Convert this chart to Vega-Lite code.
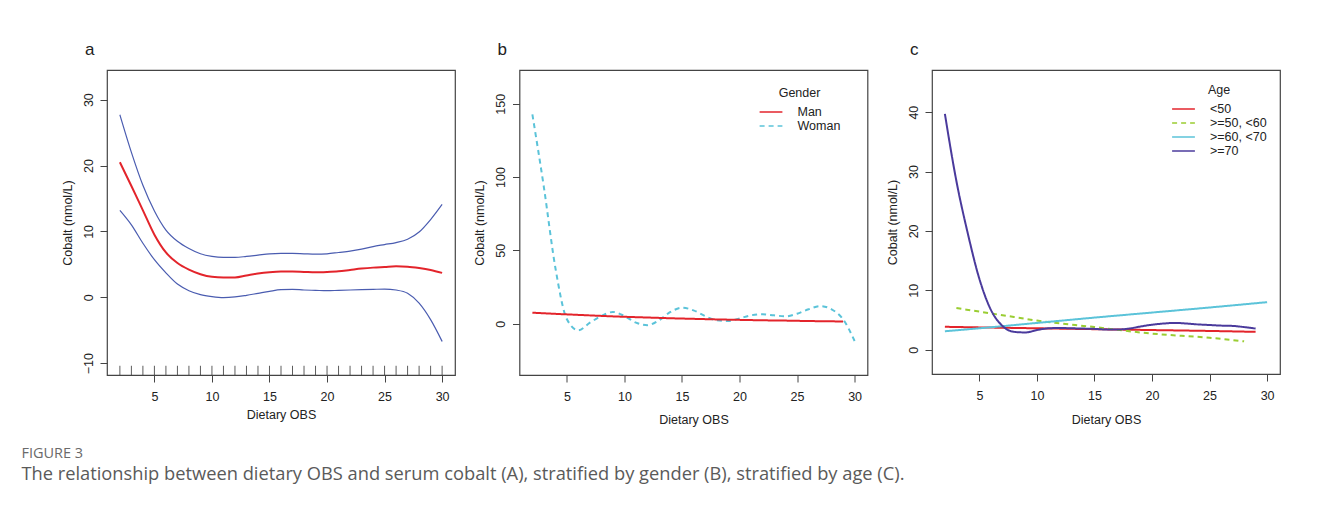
{
  "$schema": "https://vega.github.io/schema/vega-lite/v6.json",
  "background": "white",
  "padding": {"left": 21, "top": 40, "right": 5, "bottom": 5},
  "spacing": 16.5,
  "title": {
    "text": "FIGURE 3",
    "subtitle": "The relationship between dietary OBS and serum cobalt (A), stratified by gender (B), stratified by age (C).",
    "orient": "bottom",
    "anchor": "start",
    "frame": "bounds",
    "dx": -39,
    "offset": 20,
    "font": "Open Sans",
    "fontSize": 14.5,
    "fontWeight": "normal",
    "color": "#6a6a6a",
    "subtitleFont": "Open Sans",
    "subtitleFontSize": 18.3,
    "subtitleColor": "#5a5a5a",
    "subtitlePadding": 5
  },
  "datasets": {
    "a": [
      {"series": "upper", "x": 2, "y": 27.7}, {"series": "upper", "x": 3, "y": 22.0}, {"series": "upper", "x": 4, "y": 17.0}, {"series": "upper", "x": 5, "y": 13.1}, {"series": "upper", "x": 6, "y": 10.2}, {"series": "upper", "x": 7, "y": 8.5}, {"series": "upper", "x": 8, "y": 7.4}, {"series": "upper", "x": 9, "y": 6.6}, {"series": "upper", "x": 10, "y": 6.2}, {"series": "upper", "x": 11, "y": 6.05}, {"series": "upper", "x": 12, "y": 6.05}, {"series": "upper", "x": 13, "y": 6.2}, {"series": "upper", "x": 14, "y": 6.4}, {"series": "upper", "x": 15, "y": 6.6}, {"series": "upper", "x": 16, "y": 6.65}, {"series": "upper", "x": 17, "y": 6.65}, {"series": "upper", "x": 18, "y": 6.6}, {"series": "upper", "x": 19, "y": 6.55}, {"series": "upper", "x": 20, "y": 6.6}, {"series": "upper", "x": 21, "y": 6.8}, {"series": "upper", "x": 22, "y": 7.0}, {"series": "upper", "x": 23, "y": 7.3}, {"series": "upper", "x": 24, "y": 7.7}, {"series": "upper", "x": 25, "y": 8.0}, {"series": "upper", "x": 26, "y": 8.3}, {"series": "upper", "x": 27, "y": 8.8}, {"series": "upper", "x": 28, "y": 9.9}, {"series": "upper", "x": 29, "y": 11.8}, {"series": "upper", "x": 30, "y": 14.1},
      {"series": "lower", "x": 2, "y": 13.2}, {"series": "lower", "x": 3, "y": 11.0}, {"series": "lower", "x": 4, "y": 8.2}, {"series": "lower", "x": 5, "y": 5.7}, {"series": "lower", "x": 6, "y": 3.7}, {"series": "lower", "x": 7, "y": 2.0}, {"series": "lower", "x": 8, "y": 1.0}, {"series": "lower", "x": 9, "y": 0.4}, {"series": "lower", "x": 10, "y": 0.1}, {"series": "lower", "x": 11, "y": -0.05}, {"series": "lower", "x": 12, "y": 0.05}, {"series": "lower", "x": 13, "y": 0.3}, {"series": "lower", "x": 14, "y": 0.6}, {"series": "lower", "x": 15, "y": 0.9}, {"series": "lower", "x": 16, "y": 1.15}, {"series": "lower", "x": 17, "y": 1.2}, {"series": "lower", "x": 18, "y": 1.1}, {"series": "lower", "x": 19, "y": 1.05}, {"series": "lower", "x": 20, "y": 1.0}, {"series": "lower", "x": 21, "y": 1.05}, {"series": "lower", "x": 22, "y": 1.1}, {"series": "lower", "x": 23, "y": 1.15}, {"series": "lower", "x": 24, "y": 1.2}, {"series": "lower", "x": 25, "y": 1.25}, {"series": "lower", "x": 26, "y": 1.1}, {"series": "lower", "x": 27, "y": 0.6}, {"series": "lower", "x": 28, "y": -0.9}, {"series": "lower", "x": 29, "y": -3.4}, {"series": "lower", "x": 30, "y": -6.7},
      {"series": "fit", "x": 2, "y": 20.5}, {"series": "fit", "x": 3, "y": 16.9}, {"series": "fit", "x": 4, "y": 13.2}, {"series": "fit", "x": 5, "y": 9.5}, {"series": "fit", "x": 6, "y": 6.8}, {"series": "fit", "x": 7, "y": 5.2}, {"series": "fit", "x": 8, "y": 4.2}, {"series": "fit", "x": 9, "y": 3.5}, {"series": "fit", "x": 10, "y": 3.1}, {"series": "fit", "x": 11, "y": 3.0}, {"series": "fit", "x": 12, "y": 3.0}, {"series": "fit", "x": 13, "y": 3.3}, {"series": "fit", "x": 14, "y": 3.6}, {"series": "fit", "x": 15, "y": 3.8}, {"series": "fit", "x": 16, "y": 3.9}, {"series": "fit", "x": 17, "y": 3.9}, {"series": "fit", "x": 18, "y": 3.85}, {"series": "fit", "x": 19, "y": 3.8}, {"series": "fit", "x": 20, "y": 3.85}, {"series": "fit", "x": 21, "y": 3.95}, {"series": "fit", "x": 22, "y": 4.15}, {"series": "fit", "x": 23, "y": 4.35}, {"series": "fit", "x": 24, "y": 4.5}, {"series": "fit", "x": 25, "y": 4.6}, {"series": "fit", "x": 26, "y": 4.7}, {"series": "fit", "x": 27, "y": 4.65}, {"series": "fit", "x": 28, "y": 4.45}, {"series": "fit", "x": 29, "y": 4.15}, {"series": "fit", "x": 30, "y": 3.7}
    ],
    "rug": [
      {"x": 2}, {"x": 3}, {"x": 4}, {"x": 5}, {"x": 6}, {"x": 7}, {"x": 8}, {"x": 9}, {"x": 10}, {"x": 11}, {"x": 12}, {"x": 13}, {"x": 14}, {"x": 15}, {"x": 16}, {"x": 17}, {"x": 18}, {"x": 19}, {"x": 20}, {"x": 21}, {"x": 22}, {"x": 23}, {"x": 24}, {"x": 25}, {"x": 26}, {"x": 27}, {"x": 28}, {"x": 29}, {"x": 30}
    ],
    "b": [
      {"series": "Woman", "x": 2, "y": 142.7}, {"series": "Woman", "x": 3, "y": 93}, {"series": "Woman", "x": 4, "y": 38}, {"series": "Woman", "x": 5, "y": 3}, {"series": "Woman", "x": 6, "y": -4.5}, {"series": "Woman", "x": 7, "y": 0.7}, {"series": "Woman", "x": 8, "y": 5.2}, {"series": "Woman", "x": 9, "y": 8}, {"series": "Woman", "x": 10, "y": 5.2}, {"series": "Woman", "x": 11, "y": 0.7}, {"series": "Woman", "x": 12, "y": -1}, {"series": "Woman", "x": 13, "y": 2.3}, {"series": "Woman", "x": 14, "y": 8}, {"series": "Woman", "x": 15, "y": 10.9}, {"series": "Woman", "x": 16, "y": 9.1}, {"series": "Woman", "x": 17, "y": 5.2}, {"series": "Woman", "x": 18, "y": 2.3}, {"series": "Woman", "x": 19, "y": 1.8}, {"series": "Woman", "x": 20, "y": 3.6}, {"series": "Woman", "x": 21, "y": 5.7}, {"series": "Woman", "x": 22, "y": 6.4}, {"series": "Woman", "x": 23, "y": 5.7}, {"series": "Woman", "x": 24, "y": 5}, {"series": "Woman", "x": 25, "y": 6.8}, {"series": "Woman", "x": 26, "y": 9.8}, {"series": "Woman", "x": 27, "y": 12}, {"series": "Woman", "x": 28, "y": 9.8}, {"series": "Woman", "x": 29, "y": 3}, {"series": "Woman", "x": 30, "y": -11.8},
      {"series": "Man", "x": 2, "y": 7.5}, {"series": "Man", "x": 4, "y": 6.7}, {"series": "Man", "x": 6, "y": 6.0}, {"series": "Man", "x": 8, "y": 5.3}, {"series": "Man", "x": 10, "y": 4.7}, {"series": "Man", "x": 12, "y": 4.2}, {"series": "Man", "x": 14, "y": 3.7}, {"series": "Man", "x": 16, "y": 3.3}, {"series": "Man", "x": 18, "y": 2.9}, {"series": "Man", "x": 20, "y": 2.6}, {"series": "Man", "x": 22, "y": 2.3}, {"series": "Man", "x": 24, "y": 2.1}, {"series": "Man", "x": 26, "y": 1.8}, {"series": "Man", "x": 28, "y": 1.6}, {"series": "Man", "x": 29, "y": 1.5}
    ],
    "c": [
      {"series": "<50", "x": 2, "y": 3.85}, {"series": "<50", "x": 5, "y": 3.75}, {"series": "<50", "x": 10, "y": 3.6}, {"series": "<50", "x": 15, "y": 3.45}, {"series": "<50", "x": 20, "y": 3.3}, {"series": "<50", "x": 25, "y": 3.15}, {"series": "<50", "x": 29, "y": 3.0},
      {"series": ">=50, <60", "x": 3, "y": 7.0}, {"series": ">=50, <60", "x": 5, "y": 6.4}, {"series": ">=50, <60", "x": 8, "y": 5.5}, {"series": ">=50, <60", "x": 10, "y": 4.9}, {"series": ">=50, <60", "x": 15, "y": 3.8}, {"series": ">=50, <60", "x": 20, "y": 2.7}, {"series": ">=50, <60", "x": 25, "y": 2.0}, {"series": ">=50, <60", "x": 28, "y": 1.4},
      {"series": ">=60, <70", "x": 2, "y": 3.1}, {"series": ">=60, <70", "x": 5, "y": 3.6}, {"series": ">=60, <70", "x": 10, "y": 4.5}, {"series": ">=60, <70", "x": 15, "y": 5.4}, {"series": ">=60, <70", "x": 20, "y": 6.25}, {"series": ">=60, <70", "x": 25, "y": 7.1}, {"series": ">=60, <70", "x": 30, "y": 8.0},
      {"series": ">=70", "x": 2, "y": 39.7}, {"series": ">=70", "x": 3, "y": 28.4}, {"series": ">=70", "x": 4, "y": 19.5}, {"series": ">=70", "x": 5, "y": 11.9}, {"series": ">=70", "x": 6, "y": 6.7}, {"series": ">=70", "x": 7, "y": 4.0}, {"series": ">=70", "x": 8, "y": 3.0}, {"series": ">=70", "x": 9, "y": 2.9}, {"series": ">=70", "x": 10, "y": 3.3}, {"series": ">=70", "x": 11, "y": 3.6}, {"series": ">=70", "x": 12, "y": 3.65}, {"series": ">=70", "x": 13, "y": 3.6}, {"series": ">=70", "x": 14, "y": 3.55}, {"series": ">=70", "x": 15, "y": 3.5}, {"series": ">=70", "x": 16, "y": 3.4}, {"series": ">=70", "x": 17, "y": 3.4}, {"series": ">=70", "x": 18, "y": 3.55}, {"series": ">=70", "x": 19, "y": 3.9}, {"series": ">=70", "x": 20, "y": 4.2}, {"series": ">=70", "x": 21, "y": 4.4}, {"series": ">=70", "x": 22, "y": 4.5}, {"series": ">=70", "x": 23, "y": 4.4}, {"series": ">=70", "x": 24, "y": 4.25}, {"series": ">=70", "x": 25, "y": 4.15}, {"series": ">=70", "x": 26, "y": 4.05}, {"series": ">=70", "x": 27, "y": 4.0}, {"series": ">=70", "x": 28, "y": 3.8}, {"series": ">=70", "x": 29, "y": 3.55}
    ]
  },
  "hconcat": [
    {
      "width": 348,
      "height": 305,
      "title": {"text": "a", "anchor": "start", "frame": "group", "dx": -22, "offset": 11},
      "layer": [
        {
          "data": {"name": "rug"},
          "mark": {"type": "rule", "color": "#333333", "strokeWidth": 0.8},
          "encoding": {
            "x": {"field": "x", "type": "quantitative"},
            "y": {"datum": -11.8},
            "y2": {"datum": -10.4}
          }
        },
        {
          "data": {"name": "a"},
          "transform": [{"filter": "datum.series !== 'fit'"}],
          "mark": {"type": "line", "color": "#4a5cb0", "strokeWidth": 1.2, "interpolate": "monotone"},
          "encoding": {
            "x": {"field": "x", "type": "quantitative"},
            "y": {"field": "y", "type": "quantitative"},
            "detail": {"field": "series"}
          }
        },
        {
          "data": {"name": "a"},
          "transform": [{"filter": "datum.series === 'fit'"}],
          "mark": {"type": "line", "color": "#e3242b", "strokeWidth": 2, "interpolate": "monotone"},
          "encoding": {
            "x": {"field": "x", "type": "quantitative", "title": "Dietary OBS",
              "scale": {"domain": [0.88, 31.12], "nice": false, "zero": false},
              "axis": {"values": [5, 10, 15, 20, 25, 30], "titlePadding": 6}},
            "y": {"field": "y", "type": "quantitative", "title": "Cobalt (nmol/L)",
              "scale": {"domain": [-11.8, 34.5], "nice": false, "zero": false},
              "axis": {"values": [-10, 0, 10, 20, 30]}}
          }
        }
      ]
    },
    {
      "width": 348,
      "height": 305,
      "title": {"text": "b", "anchor": "start", "frame": "group", "dx": -22, "offset": 11},
      "data": {"name": "b"},
      "mark": {"type": "line", "strokeWidth": 2, "interpolate": "monotone"},
      "encoding": {
        "x": {"field": "x", "type": "quantitative", "title": "Dietary OBS",
          "scale": {"domain": [0.88, 31.12], "nice": false, "zero": false},
          "axis": {"values": [5, 10, 15, 20, 25, 30], "titlePadding": 11}},
        "y": {"field": "y", "type": "quantitative", "title": "Cobalt (nmol/L)",
          "scale": {"domain": [-35, 173], "nice": false, "zero": false},
          "axis": {"values": [0, 50, 100, 150]}},
        "color": {"field": "series", "type": "nominal",
          "scale": {"domain": ["Man", "Woman"], "range": ["#e3242b", "#5bc3d9"]},
          "legend": {"title": "Gender", "orient": "none", "legendX": 239, "legendY": 17}},
        "strokeDash": {"field": "series", "type": "nominal",
          "scale": {"domain": ["Man", "Woman"], "range": [[1, 0], [5, 4]]},
          "legend": {"title": "Gender", "orient": "none", "legendX": 239, "legendY": 17}}
      }
    },
    {
      "width": 348,
      "height": 304,
      "title": {"text": "c", "anchor": "start", "frame": "group", "dx": -22, "offset": 11},
      "data": {"name": "c"},
      "mark": {"type": "line", "strokeWidth": 2, "interpolate": "monotone"},
      "encoding": {
        "x": {"field": "x", "type": "quantitative", "title": "Dietary OBS",
          "scale": {"domain": [0.88, 31.12], "nice": false, "zero": false},
          "axis": {"values": [5, 10, 15, 20, 25, 30], "titlePadding": 12}},
        "y": {"field": "y", "type": "quantitative", "title": "Cobalt (nmol/L)",
          "scale": {"domain": [-4.1, 47.1], "nice": false, "zero": false},
          "axis": {"values": [0, 10, 20, 30, 40]}},
        "color": {"field": "series", "type": "nominal",
          "scale": {"domain": ["<50", ">=50, <60", ">=60, <70", ">=70"], "range": ["#e3242b", "#9acd32", "#5bc3d9", "#4a3a9c"]},
          "legend": {"title": "Age", "orient": "none", "legendX": 239, "legendY": 14}},
        "strokeDash": {"field": "series", "type": "nominal",
          "scale": {"domain": ["<50", ">=50, <60", ">=60, <70", ">=70"], "range": [[1, 0], [5, 4], [1, 0], [1, 0]]},
          "legend": {"title": "Age", "orient": "none", "legendX": 239, "legendY": 14}}
      }
    }
  ],
  "resolve": {"scale": {"color": "independent", "strokeDash": "independent"}, "legend": {"color": "independent", "strokeDash": "independent"}},
  "config": {
    "font": "Liberation Sans",
    "view": {"stroke": "#444444", "strokeWidth": 1.2},
    "title": {"font": "Liberation Sans", "fontSize": 17, "fontWeight": "normal", "color": "#222222"},
    "axis": {
      "domain": false,
      "grid": false,
      "ticks": true,
      "tickSize": 7,
      "tickColor": "#444444",
      "tickWidth": 1,
      "labelFont": "Liberation Sans",
      "labelFontSize": 12.5,
      "labelColor": "#222222",
      "titleFont": "Liberation Sans",
      "titleFontSize": 12.5,
      "titleFontWeight": "normal",
      "titleColor": "#222222"
    },
    "axisX": {"labelPadding": 8},
    "axisY": {"labelAngle": -90, "labelPadding": 5, "titlePadding": 8},
    "legend": {
      "symbolType": "stroke",
      "symbolSize": 520,
      "symbolStrokeWidth": 1.5,
      "clipHeight": 13,
      "labelFont": "Liberation Sans",
      "labelFontSize": 12.5,
      "labelColor": "#222222",
      "labelOffset": 14,
      "titleFont": "Liberation Sans",
      "titleFontSize": 12.5,
      "titleFontWeight": "normal",
      "titleColor": "#222222",
      "titleAnchor": "middle",
      "titlePadding": 6,
      "rowPadding": 1
    }
  }
}
